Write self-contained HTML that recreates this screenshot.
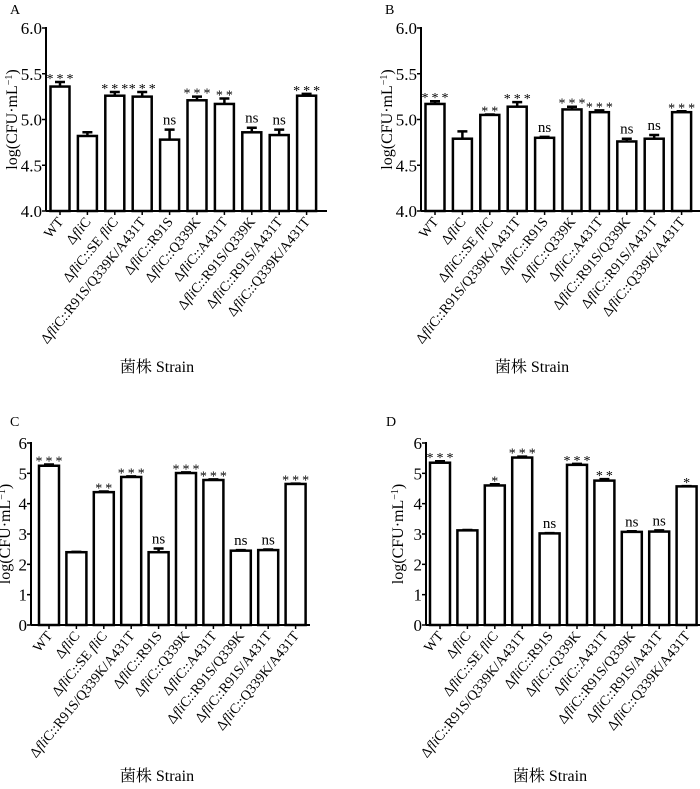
<!DOCTYPE html>
<html><head><meta charset="utf-8">
<style>
html,body{margin:0;padding:0;background:#fff;}
svg{display:block;font-family:"Liberation Serif","Noto Serif CJK SC",serif;}
</style></head>
<body>
<svg id="fig" width="700" height="789" viewBox="0 0 700 789" xmlns="http://www.w3.org/2000/svg"></svg>
<script>
const categories = [
  ["WT"],
  ["Δ","fli","C"],
  ["Δ","fli","C::SE ","fli","C"],
  ["Δ","fli","C::R91S/Q339K/A431T"],
  ["Δ","fli","C::R91S"],
  ["Δ","fli","C::Q339K"],
  ["Δ","fli","C::A431T"],
  ["Δ","fli","C::R91S/Q339K"],
  ["Δ","fli","C::R91S/A431T"],
  ["Δ","fli","C::Q339K/A431T"]
];
const valuesA = [5.36,4.82,5.26,5.25,4.78,5.21,5.17,4.86,4.83,5.26];
const errorsA = [0.05,0.04,0.04,0.05,0.11,0.04,0.06,0.05,0.06,0.02];
const sigA = ["***","","***","***","ns","***","**","ns","ns","***"];
const valuesB = [5.17,4.79,5.05,5.14,4.80,5.11,5.08,4.76,4.79,5.08];
const errorsB = [0.03,0.08,0.005,0.05,0.01,0.03,0.02,0.03,0.04,0.01];
const sigB = ["***","","**","***","ns","***","***","ns","ns","***"];
const valuesC = [5.25,2.40,4.38,4.88,2.40,5.01,4.78,2.45,2.47,4.65];
const errorsC = [0.04,0.01,0.02,0.02,0.12,0.02,0.02,0.02,0.02,0.01];
const sigC = ["***","","**","***","ns","***","***","ns","ns","***"];
const valuesD = [5.35,3.12,4.60,5.52,3.02,5.28,4.76,3.07,3.08,4.57];
const errorsD = [0.05,0.01,0.04,0.03,0.01,0.03,0.05,0.02,0.04,0.01];
const sigD = ["***","","*","***","ns","***","**","ns","ns","*"];
const ticksAB = ["4.0","4.5","5.0","5.5","6.0"];
const ticksCD = ["0","1","2","3","4","5","6"];

const NS="http://www.w3.org/2000/svg";
const svg=document.getElementById('fig');
function mk(tag,attrs,parent){const e=document.createElementNS(NS,tag);for(const k in attrs)e.setAttribute(k,attrs[k]);(parent||svg).appendChild(e);return e;}

function panel(cfg){
  const g=mk('g',{});
  
  
  const {ax,top,bottom,xEnd,ymin,ymax,c0,step,bw,vals,errs,sig,ticks}=cfg;
  const y=v=>bottom-(v-ymin)/(ymax-ymin)*(bottom-top);
  const x=i=>c0+i*step;
  const L=mk('text',{x:cfg.lx,y:cfg.ly,'font-size':14},g);L.textContent=cfg.letter;
  
  
  vals.forEach((v,i)=>{
    const cx=x(i),yt=y(v),ye=y(v+errs[i]);
    const b=mk('rect',{x:cx-bw/2,y:yt,width:bw,height:bottom-yt,fill:'#fff',stroke:'#000','stroke-width':2.5},g);
    
    
    const e=mk('path',{d:`M${cx},${yt}V${ye}M${cx-5},${ye}H${cx+5}`,stroke:'#000','stroke-width':2.5,fill:'none'},g);
    
    
    if(sig[i]){
      const isNs=sig[i]==='ns';
      const s=mk('text',{x:cx+(isNs?0:1.5),y:isNs?ye-5:ye+1,'text-anchor':'middle','font-size':isNs?15:14,'letter-spacing':isNs?0:3},g);
      s.textContent=sig[i];
      
      
    }
  });
  const ya=mk('path',{d:`M${ax},${top-1}V${bottom}`,stroke:'#000','stroke-width':2,fill:'none'},g);
  
  
  const xa=mk('path',{d:`M${ax},${bottom}H${xEnd}`,stroke:'#000','stroke-width':2,fill:'none'},g);
  
  
  ticks.forEach(t=>{
    const ty=y(parseFloat(t));
    mk('path',{d:`M${ax-4},${ty}H${ax}`,stroke:'#000','stroke-width':1.5},g);
    const tl=mk('text',{x:ax-4,y:ty+6,'text-anchor':'end','font-size':17},g);
    tl.textContent=t;
    
    
  });
  categories.forEach((parts,i)=>{
    const cx=x(i);
    mk('path',{d:`M${cx},${bottom}V${bottom+4}`,stroke:'#000','stroke-width':1.5},g);
    const tx=cx+4,ty=bottom+11;
    const t=mk('text',{x:tx,y:ty,'text-anchor':'end','font-size':14,transform:`rotate(-51 ${tx} ${ty})`},g);
    
    
    parts.forEach(p=>{const s=mk('tspan',p==='fli'?{'font-style':'italic'}:{},t);s.textContent=p;});
  });
  const yt=mk('text',{x:0,y:0,'text-anchor':'middle','font-size':16,transform:`translate(${cfg.ytx},${(top+bottom)/2}) rotate(-90)`},g);
  
  
  yt.appendChild(document.createTextNode('log(CFU·mL'));
  const sup=mk('tspan',{'baseline-shift':'super','font-size':10},yt);sup.textContent='−1';
  yt.appendChild(document.createTextNode(')'));
  const xt=mk('text',{x:cfg.xtx,y:cfg.xty,'text-anchor':'middle','font-size':16},g);
  xt.textContent='菌株  Strain';
  
  
}
const step=27.4;
panel({letter:'A',lx:10,ly:14,ax:46,top:28,bottom:211,xEnd:327,ymin:4,ymax:6,c0:60,step,bw:19,vals:valuesA,errs:errorsA,sig:sigA,ticks:ticksAB,ytx:17,xtx:157,xty:372});
panel({letter:'B',lx:385,ly:14,ax:421,top:28,bottom:211,xEnd:700,ymin:4,ymax:6,c0:435,step,bw:19,vals:valuesB,errs:errorsB,sig:sigB,ticks:ticksAB,ytx:392,xtx:532,xty:372});
panel({letter:'C',lx:10,ly:426,ax:31,top:443,bottom:625,xEnd:310,ymin:0,ymax:6,c0:49,step,bw:20,vals:valuesC,errs:errorsC,sig:sigC,ticks:ticksCD,ytx:10,xtx:157,xty:781});
panel({letter:'D',lx:386,ly:426,ax:426,top:443,bottom:625,xEnd:700,ymin:0,ymax:6,c0:440,step,bw:20,vals:valuesD,errs:errorsD,sig:sigD,ticks:ticksCD,ytx:403,xtx:550,xty:781});
</script>
</body></html>
